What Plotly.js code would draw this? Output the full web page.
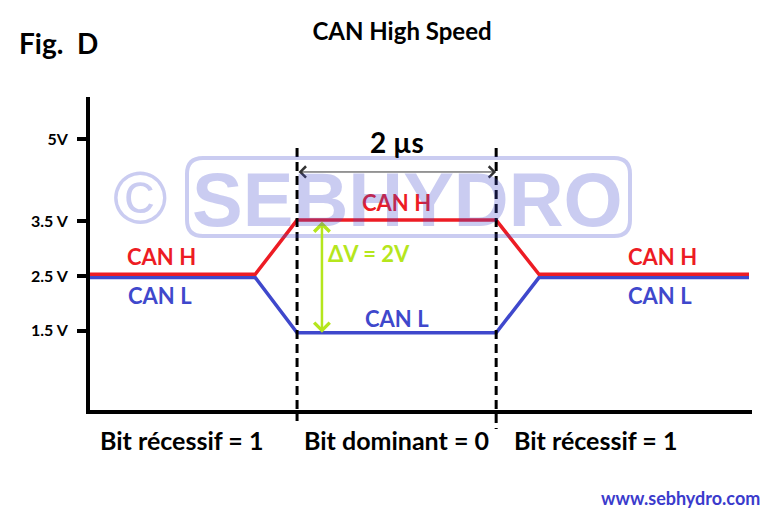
<!DOCTYPE html>
<html><head><meta charset="utf-8">
<script src="https://cdn.plot.ly/plotly-3.0.1.min.js"></script>
<style>html,body{margin:0;padding:0;background:#fff}</style>
</head><body>
<div id="chart" style="width:775px;height:519px"></div>
<script>
// ---- data (time in µs, voltage in V) ----
const timeUs = [-0.08, 1.58, 2.0, 4.0, 4.43, 6.54];
const canH   = [2.53, 2.53, 3.52, 3.52, 2.53, 2.53];
const canL   = [2.47, 2.47, 1.46, 1.46, 2.47, 2.47];
const tickVals = [1.5, 2.5, 3.5, 5];
const tickText = ['1.5 V', '2.5 V', '3.5 V', '5V'];
const bitEdges = [2, 4];
const bitLabels = ['Bit récessif = 1', 'Bit dominant = 0', 'Bit récessif = 1'];
const bitLabelX = [0.84, 3.0, 5.0];
const bitTimeLabel = '2 µs';
const deltaLabel = 'ΔV = 2V';
const deltaX = 2.25;

// ---- styling / layout helpers ----
const RED = '#ed1c24', BLUE = '#3f48cc', GREEN = '#b5e61d';
const FONT = 'Lato, "Open Sans", sans-serif';
const WM = 'rgba(63,72,204,0.28)';
const L = 90, R = 752, T = 97, B = 410;
const px = x => (x - L) / (R - L);
const py = y => (B - y) / (B - T);

const traces = [
  {x: timeUs, y: canL, mode: 'lines', line: {color: BLUE, width: 3.5}, hoverinfo: 'skip'},
  {x: timeUs, y: canH, mode: 'lines', line: {color: RED, width: 3.5}, hoverinfo: 'skip'}
];

const shapes = bitEdges.map((t, i) => ({
  type: 'line', xref: 'x', yref: 'paper', x0: t, x1: t,
  y0: py(148), y1: py(i === 0 ? 421 : 429),
  line: {color: 'black', width: 3, dash: '9px,5px'}, layer: 'above'
}));

// rounded watermark frame
(function () {
  const x0 = px(187), x1 = px(630), y0 = py(236), y1 = py(158);
  const rx = 16 / (R - L), ry = 16 / (B - T);
  shapes.push({
    type: 'path', xref: 'paper', yref: 'paper', layer: 'above',
    path: `M${x0 + rx},${y0} L${x1 - rx},${y0} Q${x1},${y0} ${x1},${y0 + ry} L${x1},${y1 - ry} Q${x1},${y1} ${x1 - rx},${y1} L${x0 + rx},${y1} Q${x0},${y1} ${x0},${y1 - ry} L${x0},${y0 + ry} Q${x0},${y0} ${x0 + rx},${y0} Z`,
    line: {color: WM, width: 4}
  });
})();

const bold = s => '<b>' + s + '</b>';
const ann = [];
function txt(text, x, y, size, color, opts) {
  ann.push(Object.assign({text: bold(text), x: x, y: y, xref: 'x', yref: 'y', showarrow: false,
    font: {family: FONT, size: size, color: color}, xanchor: 'center', yanchor: 'middle'}, opts || {}));
}
// CAN labels
txt('CAN H', 0.64, 2.85, 22, RED);
txt('CAN L', 0.62, 2.15, 22, BLUE);
txt('CAN H', 3.0, 3.85, 22, RED);
txt('CAN L', 3.0, 1.73, 22, BLUE);
txt('CAN H', 5.67, 2.85, 22, RED);
txt('CAN L', 5.65, 2.15, 22, BLUE);
// delta V
txt(deltaLabel, deltaX + 0.47, 2.91, 22, GREEN);
ann.push({x: deltaX, y: canL[2], ax: deltaX, ay: canH[2], xref: 'x', yref: 'y', axref: 'x', ayref: 'y',
  text: '', showarrow: true, arrowhead: 4, startarrowhead: 4, arrowside: 'end+start',
  arrowwidth: 2.5, arrowsize: 1.2, startarrowsize: 1.2, arrowcolor: GREEN});
// 2 µs
txt(bitTimeLabel, (bitEdges[0] + bitEdges[1]) / 2, 4.95, 28, 'black');
ann.push({x: bitEdges[1], y: 4.40, ax: bitEdges[0], ay: 4.40, xref: 'x', yref: 'y', axref: 'x', ayref: 'y',
  text: '', showarrow: true, arrowhead: 4, startarrowhead: 4, arrowside: 'end+start',
  arrowwidth: 1, arrowsize: 2.2, startarrowsize: 2.2, arrowcolor: '#333'});
// bit labels
bitLabels.forEach((s, i) => ann.push({text: bold(s), x: bitLabelX[i], y: py(440), xref: 'x', yref: 'paper',
  showarrow: false, font: {family: FONT, size: 25, color: 'black'}, xanchor: 'center', yanchor: 'middle'}));
// Fig. D
ann.push({text: bold('Fig.\u00a0 D'), x: px(17), y: py(43), xref: 'paper', yref: 'paper', showarrow: false,
  font: {family: FONT, size: 28, color: 'black'}, xanchor: 'left', yanchor: 'middle'});
// website
ann.push({text: bold('www.sebhydro.com'), x: px(762), y: py(498), xref: 'paper', yref: 'paper', showarrow: false,
  font: {family: FONT, size: 18, color: '#3b3bcc'}, xanchor: 'right', yanchor: 'middle'});
// watermark (on top)
ann.push({text: '©', x: px(140), y: py(197), xref: 'paper', yref: 'paper', showarrow: false,
  font: {family: '"Liberation Sans", Arial, sans-serif', size: 74, color: WM},
  xanchor: 'center', yanchor: 'middle'});
ann.push({text: bold('SEBHYDRO'), x: px(407), y: py(199), xref: 'paper', yref: 'paper', showarrow: false,
  font: {family: '"Liberation Sans", Arial, sans-serif', size: 76, color: WM},
  xanchor: 'center', yanchor: 'middle'});

const layout = {
  width: 775, height: 519,
  margin: {l: L, r: 775 - R, t: T, b: 519 - B, pad: 0},
  paper_bgcolor: '#fff', plot_bgcolor: '#fff',
  showlegend: false,
  title: {text: bold('CAN High Speed'), font: {family: FONT, size: 24, color: 'black'},
    x: 402 / 775, xref: 'container', xanchor: 'center', y: 1 - 32 / 519, yref: 'container', yanchor: 'middle'},
  xaxis: {range: [-0.08, 6.57], showgrid: false, zeroline: false, showticklabels: false, ticks: '',
    showline: true, linecolor: 'black', linewidth: 4, fixedrange: true},
  yaxis: {range: [0.05, 5.77], showgrid: false, zeroline: false, tickvals: tickVals, ticktext: tickText,
    ticks: 'outside', ticklen: 9, tickwidth: 4, tickcolor: 'black', showline: true, linecolor: 'black', linewidth: 4,
    tickfont: {family: FONT, size: 16, color: 'black', weight: 'bold'}, ticklabelstandoff: 6, fixedrange: true},
  shapes: shapes,
  annotations: ann
};
Plotly.newPlot('chart', traces, layout, {staticPlot: true, displayModeBar: false});
</script>
</body></html>
